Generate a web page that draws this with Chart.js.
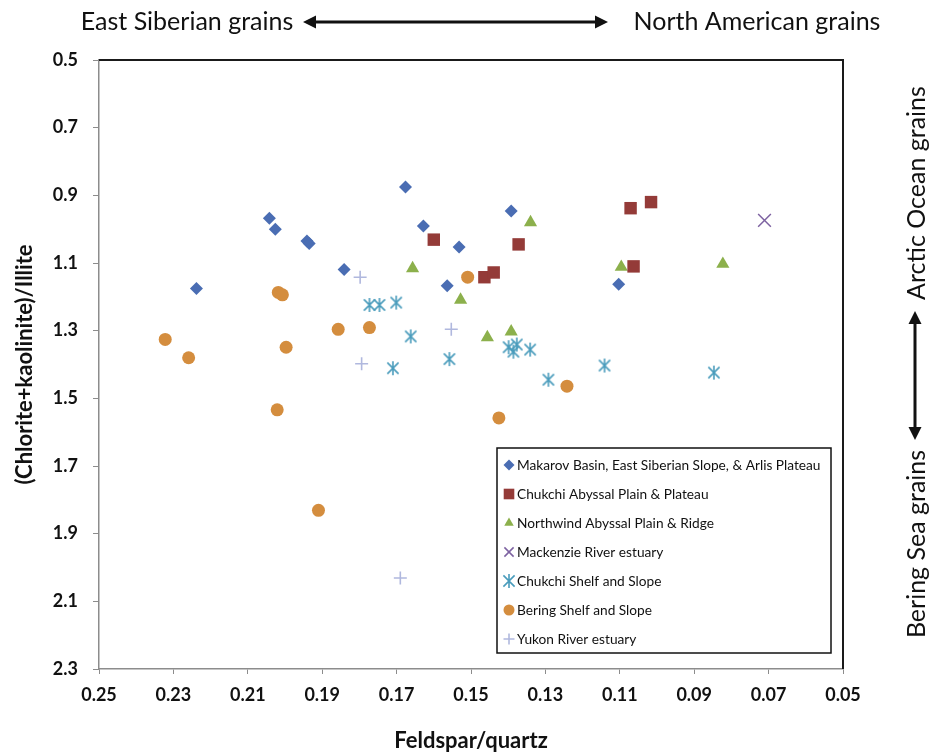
<!DOCTYPE html>
<html>
<head>
<meta charset="utf-8">
<script src="https://cdn.jsdelivr.net/npm/chart.js@4.4.0/dist/chart.umd.min.js"></script>
<style>
  html, body { margin: 0; padding: 0; background: #fff; }
  #wrap { width: 930px; height: 754px; }
</style>
</head>
<body>
<div id="wrap"><canvas id="chart" width="930" height="754"></canvas></div>
<script>
// Axis ticks
const xTicks = [0.25, 0.23, 0.21, 0.19, 0.17, 0.15, 0.13, 0.11, 0.09, 0.07, 0.05];
const yTicks = [0.5, 0.7, 0.9, 1.1, 1.3, 1.5, 1.7, 1.9, 2.1, 2.3];

// Series (feldspar/quartz, (chlorite+kaolinite)/illite)
const makarovX = [0.2238, 0.2042, 0.2026, 0.1941, 0.1935, 0.1841, 0.1676, 0.1628, 0.1532, 0.1564, 0.1392, 0.1103];
const makarovY = [1.175, 0.968, 1.000, 1.035, 1.042, 1.119, 0.875, 0.991, 1.053, 1.167, 0.946, 1.163];

const chukchiAbyssalX = [0.1600, 0.1372, 0.1464, 0.1439, 0.1071, 0.1016, 0.1063];
const chukchiAbyssalY = [1.031, 1.045, 1.142, 1.128, 0.938, 0.920, 1.110];

const northwindX = [0.1340, 0.1657, 0.1528, 0.1456, 0.1392, 0.1096, 0.0823];
const northwindY = [0.980, 1.116, 1.209, 1.320, 1.303, 1.112, 1.103];

const mackenzieX = [0.0711];
const mackenzieY = [0.974];

const chukchiShelfX = [0.1773, 0.1746, 0.1701, 0.1662, 0.1710, 0.1558, 0.1399, 0.1377, 0.1386, 0.1341, 0.1292, 0.1141, 0.0847];
const chukchiShelfY = [1.224, 1.224, 1.217, 1.317, 1.411, 1.384, 1.349, 1.341, 1.362, 1.356, 1.445, 1.403, 1.424];

const beringX = [0.2322, 0.2259, 0.2018, 0.2007, 0.1997, 0.2021, 0.1910, 0.1857, 0.1773, 0.1509, 0.1425, 0.1242];
const beringY = [1.326, 1.380, 1.187, 1.194, 1.349, 1.534, 1.831, 1.296, 1.291, 1.142, 1.558, 1.464];

const yukonX = [0.1798, 0.1553, 0.1794, 0.1690];
const yukonY = [1.142, 1.296, 1.398, 2.031];

const FONT = "Lato, 'Open Sans', sans-serif";

function pairs(xs, ys) {
  return xs.map((x, i) => ({ x: x, y: ys[i] }));
}

// Excel style star marker: X with a vertical bar
function starMarker(color, r) {
  const c = document.createElement('canvas');
  const s = 2 * r + 4;
  c.width = s;
  c.height = s;
  const g = c.getContext('2d');
  const m = s / 2, d = r * 0.8;
  g.strokeStyle = color;
  g.lineWidth = 1.6;
  g.beginPath();
  g.moveTo(m - d, m - d); g.lineTo(m + d, m + d);
  g.moveTo(m + d, m - d); g.lineTo(m - d, m + d);
  g.moveTo(m, m - r); g.lineTo(m, m + r);
  g.stroke();
  return c;
}

const starImg = starMarker('#4a9cbc', 7);

const datasets = [
  { label: 'Makarov Basin, East Siberian Slope, & Arlis Plateau', data: pairs(makarovX, makarovY),
    pointStyle: 'rectRot', pointRadius: 6.5, backgroundColor: '#4a6db3', borderColor: '#4a6db3', borderWidth: 0 },
  { label: 'Chukchi Abyssal Plain & Plateau', data: pairs(chukchiAbyssalX, chukchiAbyssalY),
    pointStyle: 'rect', pointRadius: 8.8, backgroundColor: '#943b38', borderColor: '#943b38', borderWidth: 0 },
  { label: 'Northwind Abyssal Plain & Ridge', data: pairs(northwindX, northwindY),
    pointStyle: 'triangle', pointRadius: 7.6, backgroundColor: '#8cb04c', borderColor: '#8cb04c', borderWidth: 0 },
  { label: 'Mackenzie River estuary', data: pairs(mackenzieX, mackenzieY),
    pointStyle: 'crossRot', pointRadius: 9, backgroundColor: '#7d62a1', borderColor: '#7d62a1', borderWidth: 1.5 },
  { label: 'Chukchi Shelf and Slope', data: pairs(chukchiShelfX, chukchiShelfY),
    pointStyle: starImg, pointRadius: 7, backgroundColor: '#4a9cbc', borderColor: '#4a9cbc', borderWidth: 1.6 },
  { label: 'Bering Shelf and Slope', data: pairs(beringX, beringY),
    pointStyle: 'circle', pointRadius: 6.5, backgroundColor: '#d48d3e', borderColor: '#d48d3e', borderWidth: 0 },
  { label: 'Yukon River estuary', data: pairs(yukonX, yukonY),
    pointStyle: 'cross', pointRadius: 6.5, backgroundColor: '#b0b8de', borderColor: '#b0b8de', borderWidth: 1.6 }
];

function arrow(ctx, x1, y1, x2, y2) {
  const ang = Math.atan2(y2 - y1, x2 - x1);
  const hl = 13, hw = 6.5;
  ctx.lineWidth = 3;
  ctx.beginPath();
  ctx.moveTo(x1 + Math.cos(ang) * hl * 0.8, y1 + Math.sin(ang) * hl * 0.8);
  ctx.lineTo(x2 - Math.cos(ang) * hl * 0.8, y2 - Math.sin(ang) * hl * 0.8);
  ctx.stroke();
  [[x1, y1, ang + Math.PI], [x2, y2, ang]].forEach(([px, py, a]) => {
    ctx.beginPath();
    ctx.moveTo(px, py);
    ctx.lineTo(px - Math.cos(a) * hl - Math.sin(a) * hw, py - Math.sin(a) * hl + Math.cos(a) * hw);
    ctx.lineTo(px - Math.cos(a) * hl + Math.sin(a) * hw, py - Math.sin(a) * hl - Math.cos(a) * hw);
    ctx.closePath();
    ctx.fill();
  });
}

const decorations = {
  id: 'decorations',
  beforeDatasetsDraw(chart) {
    const { ctx, chartArea: a } = chart;
    ctx.save();
    ctx.strokeStyle = '#1a1a1a';
    ctx.lineWidth = 2;
    ctx.beginPath();
    ctx.moveTo(a.left, a.top);
    ctx.lineTo(a.right, a.top);
    ctx.lineTo(a.right, a.bottom);
    ctx.stroke();
    ctx.restore();
  },
  afterDraw(chart) {
    const ctx = chart.ctx;
    ctx.save();
    ctx.fillStyle = '#111';
    ctx.strokeStyle = '#111';

    // top annotation
    ctx.font = '25px ' + FONT;
    ctx.textBaseline = 'middle';
    ctx.textAlign = 'center';
    ctx.fillText('East Siberian grains', 187, 22);
    ctx.fillText('North American grains', 757, 22);
    arrow(ctx, 303, 22, 608, 22);

    // right annotation
    ctx.save();
    ctx.translate(917, 0);
    ctx.rotate(-Math.PI / 2);
    ctx.fillText('Arctic Ocean grains', -193, 0);
    ctx.fillText('Bering Sea grains', -544, 0);
    ctx.restore();
    arrow(ctx, 915, 311, 915, 440);

    // legend box
    const bx = 497, by = 448, bw = 334, bh = 205;
    ctx.fillStyle = '#fff';
    ctx.fillRect(bx, by, bw, bh);
    ctx.lineWidth = 1.5;
    ctx.strokeStyle = '#111';
    ctx.strokeRect(bx, by, bw, bh);
    ctx.font = '13.7px ' + FONT;
    ctx.textAlign = 'left';
    ctx.textBaseline = 'middle';
    chart.data.datasets.forEach((ds, i) => {
      const y = 465 + i * 29;
      ctx.fillStyle = ds.backgroundColor;
      ctx.strokeStyle = ds.borderColor;
      ctx.lineWidth = ds.borderWidth || 0;
      Chart.helpers.drawPoint(ctx, {
        pointStyle: ds.pointStyle,
        rotation: 0,
        radius: ds.pointStyle === 'rect' ? 7.5 : (ds.pointStyle === 'crossRot' ? 6.5 : 5.5),
        borderWidth: ds.borderWidth || 0
      }, 509, y);
      ctx.fillStyle = '#111';
      ctx.fillText(ds.label, 517, y + 1);
    });
    ctx.restore();
  }
};

const axisColor = '#8c8c8c';

new Chart(document.getElementById('chart'), {
  type: 'scatter',
  data: { datasets: datasets },
  options: {
    responsive: false,
    animation: false,
    events: [],
    layout: { padding: { top: 60, right: 87, bottom: 0, left: 0 } },
    plugins: {
      legend: { display: false },
      tooltip: { enabled: false }
    },
    scales: {
      x: {
        type: 'linear',
        reverse: true,
        min: 0.05,
        max: 0.25,
        afterBuildTicks: s => { s.ticks = xTicks.map(v => ({ value: v })); },
        afterFit: s => { s.height = 85; },
        ticks: {
          color: '#111',
          font: { family: FONT, size: 18, weight: 'bold' },
          padding: 10,
          maxRotation: 0,
          callback: v => v.toFixed(2)
        },
        grid: { drawOnChartArea: false, drawTicks: true, tickLength: 5, color: axisColor },
        border: { color: axisColor, width: 1.5 },
        title: {
          display: true,
          text: 'Feldspar/quartz',
          color: '#111',
          font: { family: FONT, size: 22, weight: 'bold' },
          padding: { top: 0, bottom: 0 }
        }
      },
      y: {
        type: 'linear',
        reverse: true,
        min: 0.5,
        max: 2.3,
        afterBuildTicks: s => { s.ticks = yTicks.map(v => ({ value: v })); },
        afterFit: s => { s.width = 99; },
        ticks: {
          color: '#111',
          font: { family: FONT, size: 18, weight: 'bold' },
          padding: 15,
          callback: v => v.toFixed(1)
        },
        grid: { drawOnChartArea: false, drawTicks: true, tickLength: 6, color: axisColor },
        border: { color: axisColor, width: 1.5 },
        title: {
          display: true,
          text: '(Chlorite+kaolinite)/Illite',
          color: '#111',
          font: { family: FONT, size: 22, weight: 'bold' },
          padding: { top: 12, bottom: 0 }
        }
      }
    }
  },
  plugins: [decorations]
});
</script>
</body>
</html>
